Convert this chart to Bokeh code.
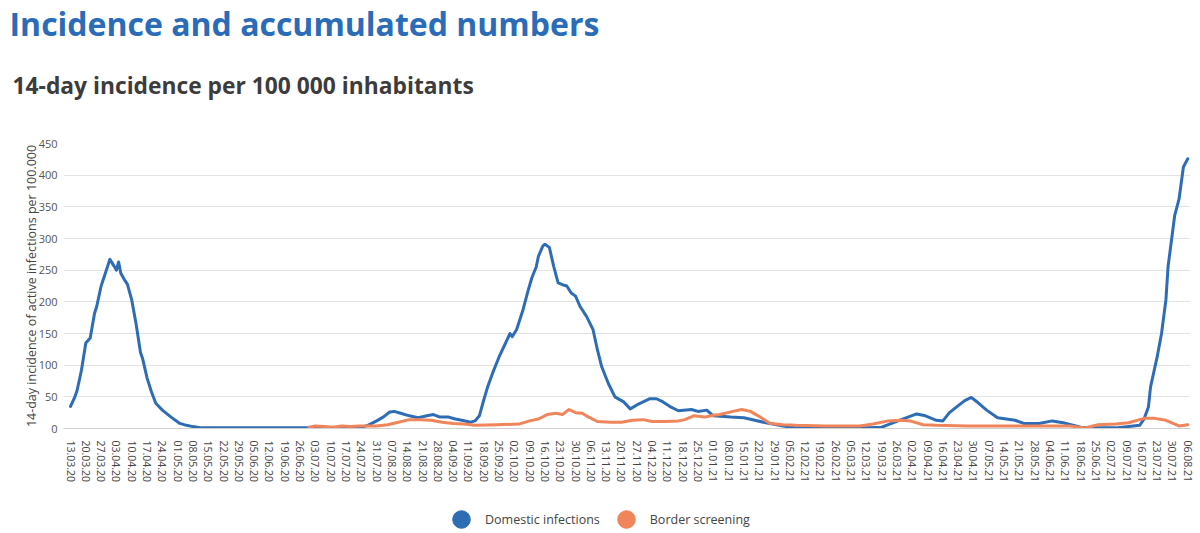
import pandas as pd
from bokeh.plotting import figure
from bokeh.layouts import column
from bokeh.models import (Range1d, FixedTicker, DatetimeTickFormatter, Label,
                          Legend, LegendItem, ColumnDataSource)
from bokeh.embed import file_html
from bokeh.resources import INLINE

# ---------------- data ----------------
domestic_dates = [
    "2020-03-13", "2020-03-15", "2020-03-16", "2020-03-18", "2020-03-20", "2020-03-22",
    "2020-03-24", "2020-03-25", "2020-03-27", "2020-03-29", "2020-03-31", "2020-04-02",
    "2020-04-03", "2020-04-04", "2020-04-05", "2020-04-07", "2020-04-08", "2020-04-10",
    "2020-04-12", "2020-04-14", "2020-04-15", "2020-04-17", "2020-04-19", "2020-04-21",
    "2020-04-24", "2020-04-28", "2020-05-02", "2020-05-05", "2020-05-08", "2020-05-12",
    "2020-06-01", "2020-07-01", "2020-07-16", "2020-07-24", "2020-07-27", "2020-07-31",
    "2020-08-03", "2020-08-06", "2020-08-08", "2020-08-11", "2020-08-15", "2020-08-19",
    "2020-08-23", "2020-08-26", "2020-08-29", "2020-09-02", "2020-09-05", "2020-09-08",
    "2020-09-12", "2020-09-14", "2020-09-16", "2020-09-18", "2020-09-20", "2020-09-22",
    "2020-09-25", "2020-09-28", "2020-09-30", "2020-10-01", "2020-10-03", "2020-10-06",
    "2020-10-08", "2020-10-10", "2020-10-12", "2020-10-13", "2020-10-15", "2020-10-16",
    "2020-10-18", "2020-10-20", "2020-10-22", "2020-10-24", "2020-10-26", "2020-10-28",
    "2020-10-30", "2020-11-01", "2020-11-04", "2020-11-07", "2020-11-09", "2020-11-11",
    "2020-11-14", "2020-11-17", "2020-11-21", "2020-11-24", "2020-11-28", "2020-12-03",
    "2020-12-06", "2020-12-09", "2020-12-12", "2020-12-16", "2020-12-22", "2020-12-25",
    "2020-12-29", "2021-01-01", "2021-01-09", "2021-01-15", "2021-01-25", "2021-02-02",
    "2021-02-08", "2021-02-26", "2021-03-13", "2021-03-19", "2021-03-22", "2021-03-28",
    "2021-04-04", "2021-04-08", "2021-04-13", "2021-04-16", "2021-04-19", "2021-04-23",
    "2021-04-26", "2021-04-29", "2021-05-02", "2021-05-06", "2021-05-11", "2021-05-19",
    "2021-05-23", "2021-05-30", "2021-06-05", "2021-06-10", "2021-06-18", "2021-06-23",
    "2021-07-04", "2021-07-12", "2021-07-15", "2021-07-17", "2021-07-19", "2021-07-20",
    "2021-07-23", "2021-07-25", "2021-07-27", "2021-07-28", "2021-07-30", "2021-07-31",
    "2021-08-02", "2021-08-04", "2021-08-06",
]
domestic_values = [
    35, 50, 60, 92, 135, 143,
    182, 193, 225, 246, 267, 256,
    250, 263, 245, 233, 228, 203,
    165, 120, 110, 80, 58, 40,
    29, 18, 8, 5, 3, 1,
    1, 1, 1, 2, 5, 12,
    18, 26, 27, 24, 20, 17,
    20, 22, 18, 18, 15, 13,
    10, 12, 20, 45, 68, 87,
    113, 135, 150, 145, 156, 188,
    214, 238, 255, 272, 288, 291,
    286, 256, 230, 227, 225, 214,
    209, 193, 177, 156, 124, 97,
    71, 50, 42, 31, 39, 47,
    47, 42, 35, 28, 30, 27,
    29, 20, 18, 17, 9, 4,
    1, 1, 1, 2, 6, 14,
    23, 20, 13, 12, 25, 36,
    44, 49, 41, 29, 17, 13,
    8, 8, 12, 9, 2, 1,
    1, 4, 5, 15, 34, 66,
    113, 150, 203, 256, 309, 336,
    362, 413, 426,
]

border_dates = [
    "2020-06-30", "2020-07-03", "2020-07-07", "2020-07-11", "2020-07-15", "2020-07-19",
    "2020-07-23", "2020-07-31", "2020-08-05", "2020-08-10", "2020-08-15", "2020-08-20",
    "2020-08-25", "2020-08-30", "2020-09-04", "2020-09-09", "2020-09-14", "2020-09-24",
    "2020-10-04", "2020-10-09", "2020-10-13", "2020-10-17", "2020-10-21", "2020-10-24",
    "2020-10-27", "2020-10-30", "2020-11-02", "2020-11-05", "2020-11-09", "2020-11-15",
    "2020-11-20", "2020-11-25", "2020-11-30", "2020-12-04", "2020-12-10", "2020-12-16",
    "2020-12-19", "2020-12-23", "2020-12-28", "2021-01-01", "2021-01-04", "2021-01-10",
    "2021-01-14", "2021-01-18", "2021-01-23", "2021-01-27", "2021-02-02", "2021-02-08",
    "2021-02-21", "2021-03-09", "2021-03-15", "2021-03-22", "2021-03-28", "2021-04-01",
    "2021-04-07", "2021-04-13", "2021-04-27", "2021-05-12", "2021-05-28", "2021-06-13",
    "2021-06-20", "2021-06-26", "2021-07-04", "2021-07-10", "2021-07-17", "2021-07-22",
    "2021-07-27", "2021-08-02", "2021-08-06",
]
border_values = [
    2, 4, 3, 2, 4, 3,
    4, 4, 6, 10, 14, 14,
    13, 10, 8, 7, 5, 6,
    7, 12, 15, 22, 24, 22,
    30, 25, 24, 18, 11, 10,
    10, 13, 14, 11, 11, 12,
    14, 20, 18, 21, 22, 27,
    30, 27, 17, 8, 6, 5,
    4, 4, 7, 12, 13, 12,
    6, 5, 4, 4, 4, 4,
    1, 6, 7, 9, 16, 16,
    13, 4, 6,
]

series_names = ["Domestic infections", "Border screening"]
y_ticks = [0, 50, 100, 150, 200, 250, 300, 350, 400, 450]
tick_dates = pd.date_range("2020-03-13", "2021-08-06", freq="7D")

main_title = "Incidence and accumulated numbers"
sub_title = "14-day incidence per 100 000 inhabitants"
y_label = "14-day incidence of active infections per 100.000"

BLUE = "#2e6db5"
ORANGE = "#f0845a"
FONT = "Open Sans"
W = 1200


def bare(height):
    f = figure(width=W, height=height, output_backend="svg", toolbar_location=None,
               x_range=Range1d(0, W), y_range=Range1d(0, height),
               x_axis_location=None, y_axis_location=None,
               min_border=0, outline_line_color=None, frame_align=False)
    f.grid.visible = False
    return f


# ---------------- header ----------------
HEAD_H = 131
head = bare(HEAD_H)
head.add_layout(Label(x=9, y=HEAD_H - 23, text=main_title, text_font=FONT,
                      text_font_size="32px", text_font_style="bold",
                      text_color="#2b6cb8", text_baseline="alphabetic"))
head.add_layout(Label(x=12, y=HEAD_H - 85, text=sub_title, text_font=FONT,
                      text_font_size="22.8px", text_font_style="bold",
                      text_color="#3c3c3c", text_baseline="alphabetic"))

# ---------------- main chart ----------------
x_start = pd.Timestamp("2020-03-13") - pd.Timedelta(hours=77)
x_end = pd.Timestamp("2021-08-06") + pd.Timedelta(hours=30)

p = figure(width=W, height=355, output_backend="svg", toolbar_location=None,
           x_axis_type="datetime",
           x_range=Range1d(x_start, x_end), y_range=Range1d(0, 450),
           min_border_left=63, min_border_right=10, min_border_top=12,
           min_border_bottom=58, outline_line_color=None, frame_align=False)

src_dom = ColumnDataSource(dict(x=pd.to_datetime(domestic_dates), y=domestic_values))
src_bor = ColumnDataSource(dict(x=pd.to_datetime(border_dates), y=border_values))

p.line("x", "y", source=src_dom, line_color=BLUE, line_width=3,
       line_join="round", line_cap="round")
p.line("x", "y", source=src_bor, line_color=ORANGE, line_width=3,
       line_join="round", line_cap="round")

p.yaxis.ticker = FixedTicker(ticks=y_ticks)
p.yaxis.axis_line_color = None
p.yaxis.major_tick_line_color = None
p.yaxis.minor_tick_line_color = None
p.yaxis.major_label_text_font = FONT
p.yaxis.major_label_text_font_size = "11px"
p.yaxis.major_label_text_color = "#555555"
p.yaxis.major_label_text_baseline = "bottom"
p.yaxis.major_label_text_align = "left"
p.yaxis.major_label_standoff = 0
p.yaxis.axis_label = y_label
p.yaxis.axis_label_text_font = FONT
p.yaxis.axis_label_text_font_size = "12.5px"
p.yaxis.axis_label_text_font_style = "normal"
p.yaxis.axis_label_text_color = "#444444"
p.yaxis.axis_label_standoff = -4

p.xaxis.ticker = FixedTicker(ticks=[t.value / 1e6 for t in tick_dates])
fmt = "%d.%m.%y"
p.xaxis.formatter = DatetimeTickFormatter(
    microseconds=fmt, milliseconds=fmt, seconds=fmt, minsec=fmt, minutes=fmt,
    hourmin=fmt, hours=fmt, days=fmt, months=fmt, years=fmt)
p.xaxis.major_label_orientation = "vertical"
p.xaxis.major_label_text_font = FONT
p.xaxis.major_label_text_font_size = "10.5px"
p.xaxis.major_label_text_color = "#444444"
p.xaxis.major_label_standoff = 6
p.xaxis.axis_line_color = "#d0d0d0"
p.xaxis.major_tick_line_color = None
p.xaxis.minor_tick_line_color = None

p.xgrid.grid_line_color = None
p.ygrid.grid_line_color = "#e3e3e3"
p.ygrid.grid_line_width = 1

# ---------------- legend ----------------
LEG_H = 47
leg = bare(LEG_H)
proxy_dom = leg.scatter(x=[-50], y=[-50], marker="circle", size=10,
                        fill_color=BLUE, line_color=BLUE)
proxy_bor = leg.scatter(x=[-50], y=[-50], marker="circle", size=10,
                        fill_color=ORANGE, line_color=ORANGE)
legend = Legend(items=[LegendItem(label=series_names[0], renderers=[proxy_dom]),
                       LegendItem(label=series_names[1], renderers=[proxy_bor])],
                orientation="horizontal", location=(439, -8),
                glyph_width=44, glyph_height=44, label_standoff=2, spacing=4,
                label_text_font=FONT, label_text_font_size="12.5px",
                label_text_color="#444444", border_line_color=None,
                background_fill_alpha=0, padding=0, margin=0)
leg.add_layout(legend, "center")

layout = column(head, p, leg, spacing=0)
open("out.html", "w").write(file_html(layout, INLINE))
